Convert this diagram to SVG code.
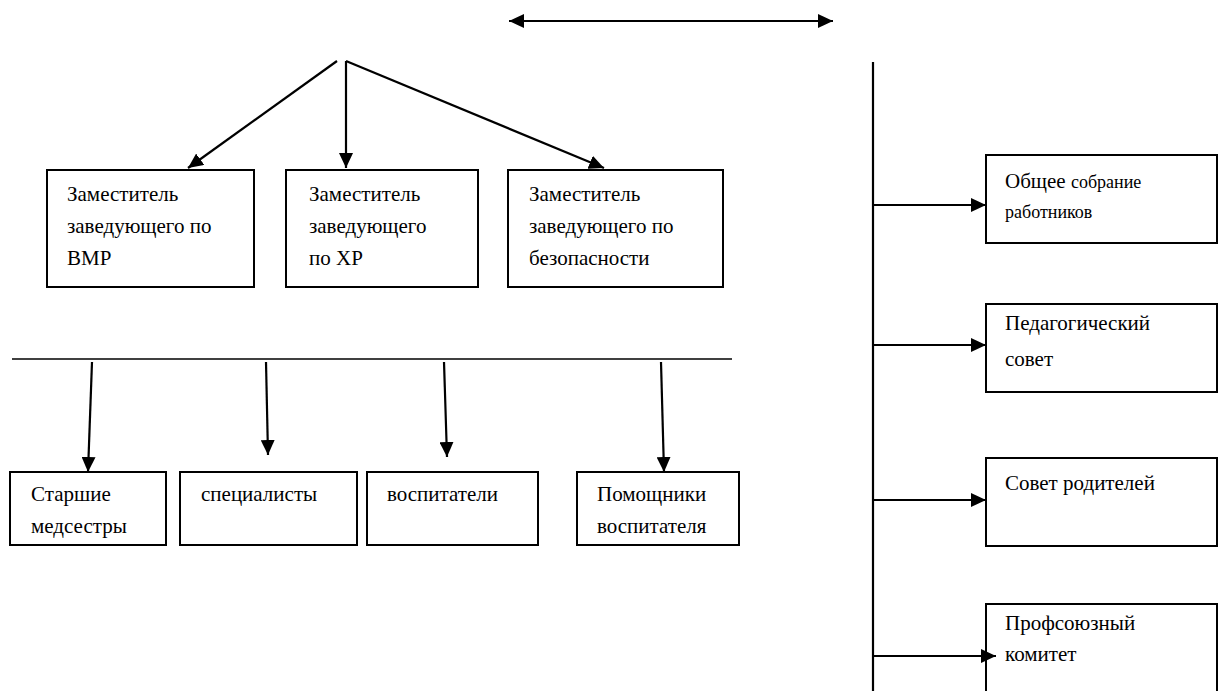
<svg xmlns="http://www.w3.org/2000/svg" width="1220" height="691" viewBox="0 0 1220 691">
<style>
.box{fill:#fff;stroke:#000;stroke-width:2}
.ln{stroke:#000;stroke-width:2.2;fill:none}
.t{font-family:"Liberation Serif","Times New Roman",serif;font-size:21px;fill:#000}
.r{font-family:"Liberation Serif","Times New Roman",serif;font-size:21px;fill:#000}
.s{font-size:18px}
</style>
<defs>
<marker id="ah" markerUnits="userSpaceOnUse" markerWidth="15" markerHeight="14" refX="15" refY="7" orient="auto-start-reverse">
<path d="M0,0 L15,7 L0,14 z" fill="#000"/>
</marker>
</defs>
<rect width="1220" height="691" fill="#fff"/>
<g id="n1"><rect class="box" x="47" y="170" width="207" height="117"/>
<text class="t" x="67" y="201">Заместитель</text><text class="t" x="67" y="233">заведующего по</text><text class="t" x="67" y="265">ВМР</text></g>
<g id="n2"><rect class="box" x="286" y="170" width="192" height="117"/>
<text class="t" x="309" y="201">Заместитель</text><text class="t" x="309" y="233">заведующего</text><text class="t" x="309" y="265">по ХР</text></g>
<g id="n3"><rect class="box" x="508" y="170" width="215" height="117"/>
<text class="t" x="529" y="201">Заместитель</text><text class="t" x="529" y="233">заведующего по</text><text class="t" x="529" y="265">безопасности</text></g>
<g id="n4"><rect class="box" x="10" y="472" width="156" height="73"/>
<text class="t" x="31" y="501">Старшие</text><text class="t" x="31" y="533">медсестры</text></g>
<g id="n5"><rect class="box" x="180" y="472" width="177" height="73"/>
<text class="t" x="201" y="501">специалисты</text></g>
<g id="n6"><rect class="box" x="367" y="472" width="171" height="73"/>
<text class="t" x="387" y="501">воспитатели</text></g>
<g id="n7"><rect class="box" x="577" y="472" width="162" height="73"/>
<text class="t" x="597" y="501">Помощники</text><text class="t" x="597" y="533">воспитателя</text></g>
<g id="n8"><rect class="box" x="986" y="155" width="231" height="88"/>
<text class="r" x="1005" y="188">Общее <tspan class="s">собрание</tspan></text><text class="r s" x="1005" y="218">работников</text></g>
<g id="n9"><rect class="box" x="986" y="304" width="231" height="88"/>
<text class="r" x="1005" y="330">Педагогический</text><text class="r" x="1005" y="366">совет</text></g>
<g id="n10"><rect class="box" x="986" y="458" width="231" height="88"/>
<text class="r" x="1005" y="490">Совет родителей</text></g>
<g id="n11"><rect class="box" x="986" y="604" width="231" height="100"/>
<text class="r" x="1005" y="630">Профсоюзный</text><text class="r" x="1005" y="661">комитет</text></g>
<g id="connectors">
<line class="ln" x1="509" y1="21" x2="833" y2="21" marker-start="url(#ah)" marker-end="url(#ah)"/>
<line class="ln" x1="337" y1="61" x2="188" y2="168" marker-end="url(#ah)"/>
<line class="ln" x1="346" y1="61" x2="346" y2="168" marker-end="url(#ah)"/>
<line class="ln" x1="346" y1="61" x2="604" y2="168" marker-end="url(#ah)"/>
<line class="ln" x1="12" y1="359" x2="732" y2="359" style="stroke-width:1.5"/>
<line class="ln" x1="92" y1="362" x2="88" y2="472" marker-end="url(#ah)"/>
<line class="ln" x1="266" y1="362" x2="268" y2="455" marker-end="url(#ah)"/>
<line class="ln" x1="444" y1="362" x2="447" y2="457" marker-end="url(#ah)"/>
<line class="ln" x1="661" y1="362" x2="664" y2="472" marker-end="url(#ah)"/>
<line class="ln" x1="873" y1="62" x2="873" y2="691"/>
<line class="ln" x1="873" y1="205" x2="986" y2="205" marker-end="url(#ah)"/>
<line class="ln" x1="873" y1="345" x2="986" y2="345" marker-end="url(#ah)"/>
<line class="ln" x1="873" y1="500" x2="986" y2="500" marker-end="url(#ah)"/>
<line class="ln" x1="873" y1="656" x2="996" y2="656" marker-end="url(#ah)"/>
</g>
</svg>
